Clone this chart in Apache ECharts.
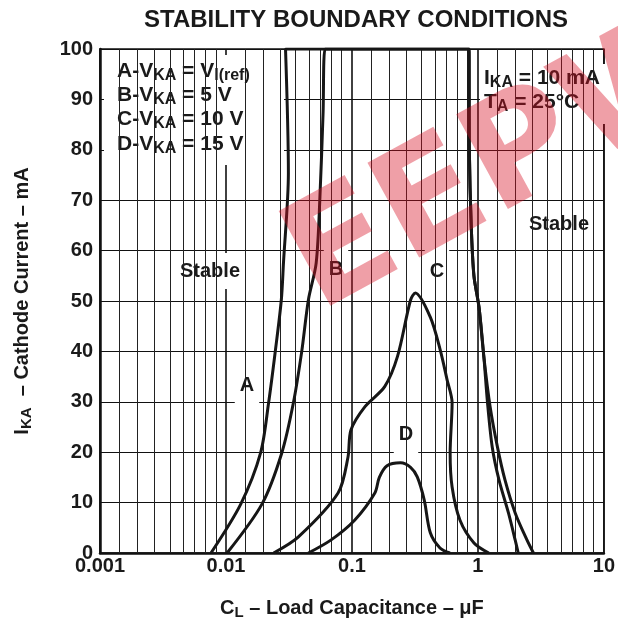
<!DOCTYPE html>
<html>
<head>
<meta charset="utf-8">
<script src="https://cdn.jsdelivr.net/npm/echarts@6/dist/echarts.min.js"></script>
<style>
html, body { margin: 0; padding: 0; background: #fff; }
#main { width: 618px; height: 626px; }
</style>
</head>
<body>
<div id="main"></div>
<script>
var FONT = '"Liberation Sans", Arial, Helvetica, sans-serif';

// x axis: load capacitance (uF), log scale
var xTicks = [0.001, 0.01, 0.1, 1, 10];
var xTickLabels = ['0.001', '0.01', '0.1', '1', '10'];
// minor grid lines per decade, as printed on the original graph paper
var minorSteps = [1.42, 1.97, 2.72, 3.58, 4.55, 5.65, 6.9, 8.3];

// y axis: cathode current (mA)
var yMin = 0, yMax = 100, yStep = 10;

// boundary curves, [capacitance uF, current mA]
var curveA = [[0.0076, 0], [0.0131, 9.7], [0.0188, 19.8], [0.0218, 29.8], [0.0246, 39.9],
  [0.0275, 50.2], [0.0286, 57.5], [0.0313, 75.4], [0.0297, 100], [0.849, 100],
  [0.855, 80], [0.885, 65], [0.93, 55], [1.02, 48.8], [1.115, 38.9], [1.25, 29],
  [1.43, 21], [1.64, 14.5], [1.98, 7.9], [2.45, 2.6], [2.76, 0]];
var curveB = [[0.0102, 0], [0.0193, 9.7], [0.0277, 19.8], [0.0343, 29.8], [0.0399, 39.9],
  [0.0451, 50.2], [0.052, 57.5], [0.0557, 70.6], [0.059, 87.3], [0.0613, 100], [0.849, 100],
  [0.855, 80], [0.885, 65], [0.93, 55], [1.02, 48.8], [1.115, 38.9], [1.19, 30],
  [1.3, 21], [1.47, 14.5], [1.75, 7.9], [1.98, 2.5], [2.09, 0]];
var curveC = [[0.0239, 0], [0.0376, 3.2], [0.0776, 11.9], [0.093, 19], [0.0982, 24.4],
  [0.1265, 29], [0.182, 33], [0.23, 39], [0.292, 50.2], [0.319, 51.6], [0.419, 46.8],
  [0.502, 40.3], [0.57, 34.3], [0.624, 29.8], [0.602, 19.8], [0.624, 13.1], [0.721, 6.5],
  [0.931, 2], [1.22, 0]];
var curveD = [[0.0451, 0], [0.0684, 2.6], [0.105, 6.5], [0.152, 11.9], [0.165, 15],
  [0.19, 17.3], [0.243, 17.9], [0.292, 17], [0.33, 15.1], [0.375, 10.5], [0.419, 4],
  [0.5, 1], [0.6, 0]];

var minorLines = [];
for (var i = 0; i < xTicks.length - 1; i++) {
  for (var j = 0; j < minorSteps.length; j++) {
    minorLines.push({ xAxis: xTicks[i] * minorSteps[j] });
  }
}

function curve(name, data) {
  return {
    name: name,
    type: 'line',
    data: data,
    showSymbol: false,
    smooth: 0.3,
    z: 5,
    lineStyle: { color: '#161616', width: 3 }
  };
}

var rich = {
  b: { fontSize: 21, fontWeight: 'bold', fontFamily: FONT, color: '#1a1a1a' },
  s: { fontSize: 16, fontWeight: 'bold', fontFamily: FONT, color: '#1a1a1a', padding: [9, 0, 0, 0] }
};
var axisRich = {
  b: { fontSize: 20, fontWeight: 'bold', fontFamily: FONT, color: '#1a1a1a' },
  s: { fontSize: 15, fontWeight: 'bold', fontFamily: FONT, color: '#1a1a1a', padding: [9, 0, 0, 0] }
};

function label(x, y, text, pad) {
  return {
    type: 'text', x: x, y: y, z: 4,
    style: {
      text: text, fontSize: 20, fontWeight: 'bold', fontFamily: FONT, fill: '#1a1a1a',
      align: 'center', verticalAlign: 'middle', textAlign: 'center', textVerticalAlign: 'middle',
      backgroundColor: '#fff', padding: pad
    }
  };
}

function richLine(x, y, text) {
  return {
    type: 'text', x: x, y: y, z: 4,
    style: {
      text: text, rich: rich, fontSize: 21, fontWeight: 'bold', fontFamily: FONT, fill: '#1a1a1a',
      align: 'left', verticalAlign: 'middle', textAlign: 'left', textVerticalAlign: 'middle'
    }
  };
}

var myChart = echarts.init(document.getElementById('main'));

var option = {
  animation: false,
  backgroundColor: '#fff',
  grid: { left: 100, right: 11, top: 49, bottom: 73, show: true, borderColor: '#111', borderWidth: 1.5 },
  xAxis: {
    type: 'log',
    logBase: 10,
    min: 0.001,
    max: 10,
    name: '{b|C}{s|L}{b| – Load Capacitance – μF}',
    nameLocation: 'middle',
    nameGap: 43,
    nameTextStyle: { rich: axisRich },
    axisLine: { lineStyle: { color: '#111', width: 2.5 } },
    axisTick: { show: false },
    axisLabel: {
      margin: 3,
      color: '#1a1a1a', fontSize: 20, fontWeight: 'bold', fontFamily: FONT,
      showMinLabel: true, showMaxLabel: true,
      formatter: function (v) {
        for (var k = 0; k < xTicks.length; k++) {
          if (Math.abs(Math.log10(v) - Math.log10(xTicks[k])) < 1e-6) return xTickLabels[k];
        }
        return '';
      }
    },
    splitLine: { show: true, lineStyle: { color: '#111', width: 1.6 } }
  },
  yAxis: {
    type: 'value',
    min: yMin,
    max: yMax,
    interval: yStep,
    name: '{b|I}{s|KA}{b|  – Cathode Current – mA}',
    nameLocation: 'middle',
    nameGap: 66,
    nameTextStyle: { rich: axisRich },
    axisLine: { show: true, lineStyle: { color: '#111', width: 2.5 } },
    axisTick: { show: false },
    axisLabel: { margin: 7, color: '#1a1a1a', fontSize: 20, fontWeight: 'bold', fontFamily: FONT },
    splitLine: { show: true, lineStyle: { color: '#111', width: 1.2 } }
  },
  graphic: [
    {
      type: 'text', x: 356, y: 20, z: 4,
      style: {
        text: 'STABILITY BOUNDARY CONDITIONS', fontSize: 24, fontWeight: 'bold', fontFamily: FONT,
        fill: '#1a1a1a', align: 'center', verticalAlign: 'middle', textAlign: 'center', textVerticalAlign: 'middle'
      }
    },
    { type: 'rect', z: 3, shape: { x: 104, y: 55, width: 180, height: 110 }, style: { fill: '#fff' } },
    richLine(117, 71, '{b|A-V}{s|KA}{b| = V}{s|I(ref)}'),
    richLine(117, 95, '{b|B-V}{s|KA}{b| = 5 V}'),
    richLine(117, 119, '{b|C-V}{s|KA}{b| = 10 V}'),
    richLine(117, 144, '{b|D-V}{s|KA}{b| = 15 V}'),
    { type: 'rect', z: 3, shape: { x: 480, y: 64, width: 126, height: 60 }, style: { fill: '#fff' } },
    richLine(484, 78, '{b|I}{s|KA}{b| = 10 mA}'),
    richLine(484, 102, '{b|T}{s|A}{b| = 25°C}'),
    label(210, 271, 'Stable', [8, 5]),
    label(559, 224, 'Stable', [10, 5]),
    label(247, 385, 'A', [12, 5]),
    label(336, 269, 'B', [12, 5]),
    label(437, 271, 'C', [12, 5]),
    label(406, 434, 'D', [10, 5]),
    {
      type: 'text', x: 508, y: 165, rotation: 0.5, z: 100,
      style: {
        text: 'EEPW', fontSize: 148, fontWeight: 'bold', fontFamily: '"DejaVu Sans", sans-serif',
        fill: 'rgba(215,15,35,0.4)',
        align: 'center', verticalAlign: 'middle', textAlign: 'center', textVerticalAlign: 'middle'
      }
    }
  ],
  series: [
    {
      type: 'line',
      data: [],
      z: 1,
      silent: true,
      markLine: {
        silent: true,
        precision: 10,
        symbol: 'none',
        label: { show: false },
        lineStyle: { color: '#222', width: 1, type: 'solid' },
        data: minorLines
      }
    },
    curve('A', curveA),
    curve('B', curveB),
    curve('C', curveC),
    curve('D', curveD)
  ]
};
myChart.setOption(option);
</script>
</body>
</html>
